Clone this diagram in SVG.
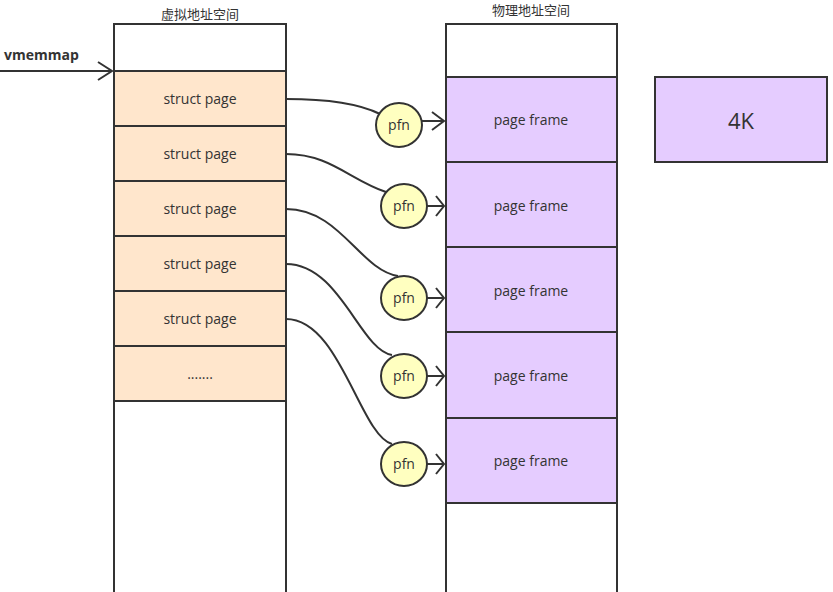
<svg xmlns="http://www.w3.org/2000/svg" width="833" height="592" viewBox="0 0 833 592">
<style>
.col{fill:#fff;stroke:#333;stroke-width:2}
.sp{fill:#ffe6cc;stroke:#333;stroke-width:2}
.pf{fill:#e5ccff;stroke:#333;stroke-width:2}
.c{fill:#ffffc0;stroke:#333;stroke-width:2}
.t{font-family:"Open Sans","Noto Sans",sans-serif;font-size:14px;fill:#333;text-anchor:middle}
.h{font-family:"Noto Sans CJK SC",sans-serif;font-size:13px;fill:#333;text-anchor:middle}
.l{fill:none;stroke:#333;stroke-width:2}
</style>
<rect width="833" height="592" fill="#fff"/>
<g id="virt">
<text class="h" x="200" y="19">虚拟地址空间</text>
<rect class="col" x="114" y="24" width="172" height="580"/>
<rect class="sp" x="114" y="71" width="172" height="55"/><text class="t" x="200" y="104">struct page</text>
<rect class="sp" x="114" y="126" width="172" height="55"/><text class="t" x="200" y="159">struct page</text>
<rect class="sp" x="114" y="181" width="172" height="55"/><text class="t" x="200" y="214">struct page</text>
<rect class="sp" x="114" y="236" width="172" height="55"/><text class="t" x="200" y="269">struct page</text>
<rect class="sp" x="114" y="291" width="172" height="55"/><text class="t" x="200" y="324">struct page</text>
<rect class="sp" x="114" y="346" width="172" height="55"/><text class="t" x="200" y="379">.......</text>
</g>
<g id="phys">
<text class="h" x="531" y="15">物理地址空间</text>
<rect class="col" x="446" y="24" width="171" height="580"/>
<rect class="pf" x="446" y="77" width="171" height="85"/><text class="t" x="531" y="125">page frame</text>
<rect class="pf" x="446" y="162" width="171" height="85"/><text class="t" x="531" y="211">page frame</text>
<rect class="pf" x="446" y="247" width="171" height="85"/><text class="t" x="531" y="296">page frame</text>
<rect class="pf" x="446" y="332" width="171" height="86"/><text class="t" x="531" y="381">page frame</text>
<rect class="pf" x="446" y="418" width="171" height="85"/><text class="t" x="531" y="466">page frame</text>
</g>
<g id="k4"><rect class="pf" x="655" y="77" width="172" height="85"/><text class="t" x="741" y="129" style="font-size:22px">4K</text></g>
<g id="vm"><text x="4" y="60" style="font-family:'Open Sans',sans-serif;font-size:14px;font-weight:bold;fill:#333">vmemmap</text></g>
<g id="connectors">
<path class="l" d="M0 71 H112 M98 62 L112 71 L98 80"/>
<path class="l" d="M286 99 C330 99 360 104 380 114"/>
<path class="l" d="M286 154 C330 154 350 180 386 192"/>
<path class="l" d="M286 209 C340 209 360 270 398 276"/>
<path class="l" d="M286 264 C340 264 360 350 392 355"/>
<path class="l" d="M286 319 C340 319 360 435 392 444"/>
<path class="l" d="M422 121 H444 M432 112 L444 121 L432 130"/>
<path class="l" d="M427 206 H444 M436 196 L444 206 L436 216"/>
<path class="l" d="M427 298 H444 M436 288 L444 298 L436 308"/>
<path class="l" d="M427 376 H444 M436 366 L444 376 L436 386"/>
<path class="l" d="M427 464 H444 M436 454 L444 464 L436 474"/>
</g>
<g id="pfn">
<ellipse class="c" cx="399" cy="125" rx="23" ry="22"/><text class="t" x="399" y="130">pfn</text>
<ellipse class="c" cx="404" cy="206" rx="23" ry="22"/><text class="t" x="404" y="211">pfn</text>
<ellipse class="c" cx="404" cy="298" rx="23" ry="22"/><text class="t" x="404" y="303">pfn</text>
<ellipse class="c" cx="404" cy="376" rx="23" ry="22"/><text class="t" x="404" y="381">pfn</text>
<ellipse class="c" cx="404" cy="464" rx="23" ry="22"/><text class="t" x="404" y="469">pfn</text>
</g>
</svg>
